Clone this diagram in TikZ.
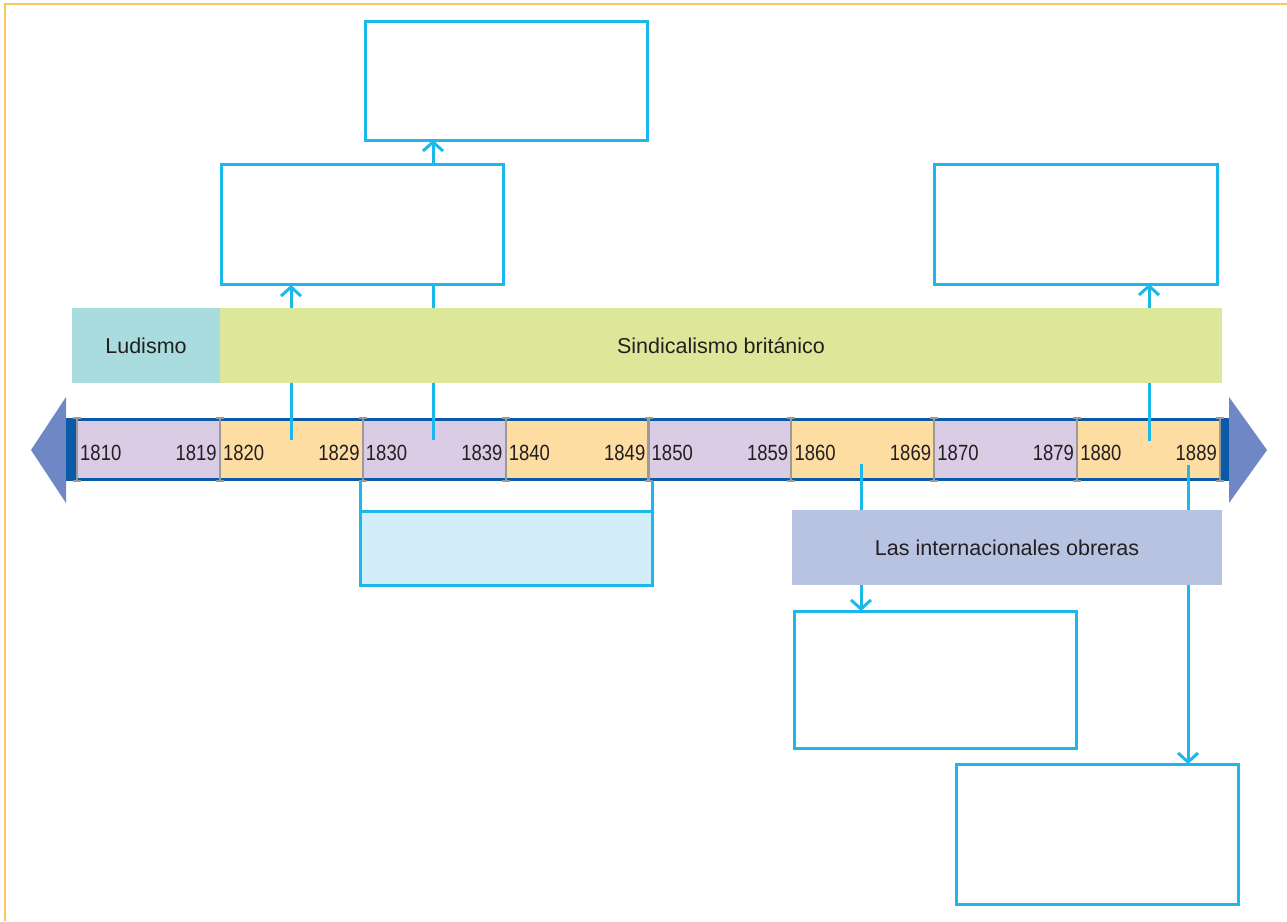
\documentclass[tikz,border=0pt]{standalone}
\usepackage{fontspec}
\setmainfont{Liberation Sans}
\newfontfamily\yearfont{Liberation Sans}[FakeStretch=0.84]
\usetikzlibrary{arrows.meta}
\definecolor{cyanl}{HTML}{1CB8EC}
\definecolor{frameorange}{HTML}{FBC55E}
\definecolor{darkblue}{HTML}{0A5AA8}
\definecolor{arrowblue}{HTML}{6F88C5}
\definecolor{segpurple}{HTML}{DACCE5}
\definecolor{segorange}{HTML}{FDDDA2}
\definecolor{ludcol}{HTML}{A9DCDE}
\definecolor{sindcol}{HTML}{DDE799}
\definecolor{intcol}{HTML}{B8C3E2}
\definecolor{lightbox}{HTML}{D3EEF9}
\definecolor{tickgray}{HTML}{9A9A9A}
\definecolor{txt}{HTML}{231F20}
\tikzset{
  emptybox/.style={draw=cyanl, line width=3pt, fill=white, inner sep=0pt, outer sep=0pt, anchor=north west},
  bandbar/.style={inner sep=0pt, outer sep=0pt, anchor=north west, text=txt, font=\fontsize{21.5}{24}\selectfont},
  segbox/.style={inner sep=0pt, outer sep=0pt, anchor=north west, minimum width=142.875pt, minimum height=57pt},
  yearlbl/.style={inner sep=0pt, text=txt, font=\yearfont\fontsize{22}{24}\selectfont},
  conn/.style={draw=cyanl, line width=3pt},
  connarrow/.style={conn, -{Straight Barb[length=9pt,width=20pt,line width=3pt]}},
  tickmark/.style={draw=tickgray, line width=2.2pt}
}
\begin{document}
\begin{tikzpicture}[x=1pt,y=-1pt]
\useasboundingbox (0,0) rectangle (1287,921);
% page frame
\draw[frameorange, line width=2pt] (5,921) -- (5,4) -- (1287,4);

% timeline arrows
\fill[arrowblue] (66,397) -- (31,450) -- (66,503) -- cycle;
\fill[arrowblue] (1229,397) -- (1267,450) -- (1229,503) -- cycle;
% timeline frame
\node[fill=darkblue, inner sep=0pt, outer sep=0pt, anchor=north west, minimum width=1163pt, minimum height=63pt] (tl) at (66,418) {};
% segments
\foreach \i/\c/\a/\b in {0/segpurple/1810/1819, 1/segorange/1820/1829, 2/segpurple/1830/1839, 3/segorange/1840/1849, 4/segpurple/1850/1859, 5/segorange/1860/1869, 6/segpurple/1870/1879, 7/segorange/1880/1889}{
  \node[segbox, fill=\c] (seg\i) at ({77+\i*142.875}, 421) {};
  \node[yearlbl, anchor=west] (ya\i) at ([xshift=3pt, yshift=-3.5pt]seg\i.west) {\a};
  \node[yearlbl, anchor=east] (yb\i) at ([xshift=-3pt, yshift=-3.5pt]seg\i.east) {\b};
}
% tick marks
\foreach \i in {0,...,8}{
  \draw[tickmark] ({77+\i*142.875}, 418) -- ({77+\i*142.875}, 481);
  \draw[tickmark] ({77+\i*142.875-4}, 418) -- ({77+\i*142.875+4}, 418);
  \draw[tickmark] ({77+\i*142.875-4}, 481) -- ({77+\i*142.875+4}, 481);
}

% boxes
\node[emptybox, minimum width=282pt, minimum height=119pt] (topbox) at (365,21) {};
\node[emptybox, minimum width=283pt, minimum height=120pt] (rbox) at (934,164) {};
\node[emptybox, minimum width=282pt, minimum height=137pt] (lowbox) at (794,611) {};
\node[emptybox, minimum width=282pt, minimum height=140pt] (botbox) at (956,764) {};

% connector start points
\coordinate (c1) at (291,440);
\coordinate (c2) at (433,440);
\coordinate (c3) at (1149,441);
\coordinate (c4) at (861,464);
\coordinate (c5) at (1188,465);
\coordinate (b2s) at (362,285);

% connectors (drawn before the bars and the box that hide parts of them)
\path[connarrow] (c1) -- (c1 |- b2s);
\path[connarrow] (c2) -- (c2 |- topbox.south);
\path[connarrow] (c3) -- (c3 |- rbox.south);
\path[connarrow] (c4) -- (c4 |- lowbox.north);
\path[connarrow] (c5) -- (c5 |- botbox.north);

% bars
\node[bandbar, fill=ludcol, minimum width=148pt, minimum height=75pt] (lud) at (72,308) {Ludismo};
\node[bandbar, fill=sindcol, minimum width=1002pt, minimum height=75pt] (sind) at (220,308) {Sindicalismo británico};
\node[bandbar, fill=intcol, minimum width=430pt, minimum height=75pt] (intl) at (792,510) {Las internacionales obreras};

% box over the c2 connector
\node[emptybox, minimum width=282pt, minimum height=120pt] (box2) at (221,164) {};

% light blue box with bracket
\node[emptybox, fill=lightbox, minimum width=292pt, minimum height=74pt] (lbox) at (360,511) {};
\draw[conn] (lbox.north west) -- (lbox.north west |- tl.south);
\draw[conn] (lbox.north east) -- (lbox.north east |- tl.south);
\end{tikzpicture}
\end{document}
